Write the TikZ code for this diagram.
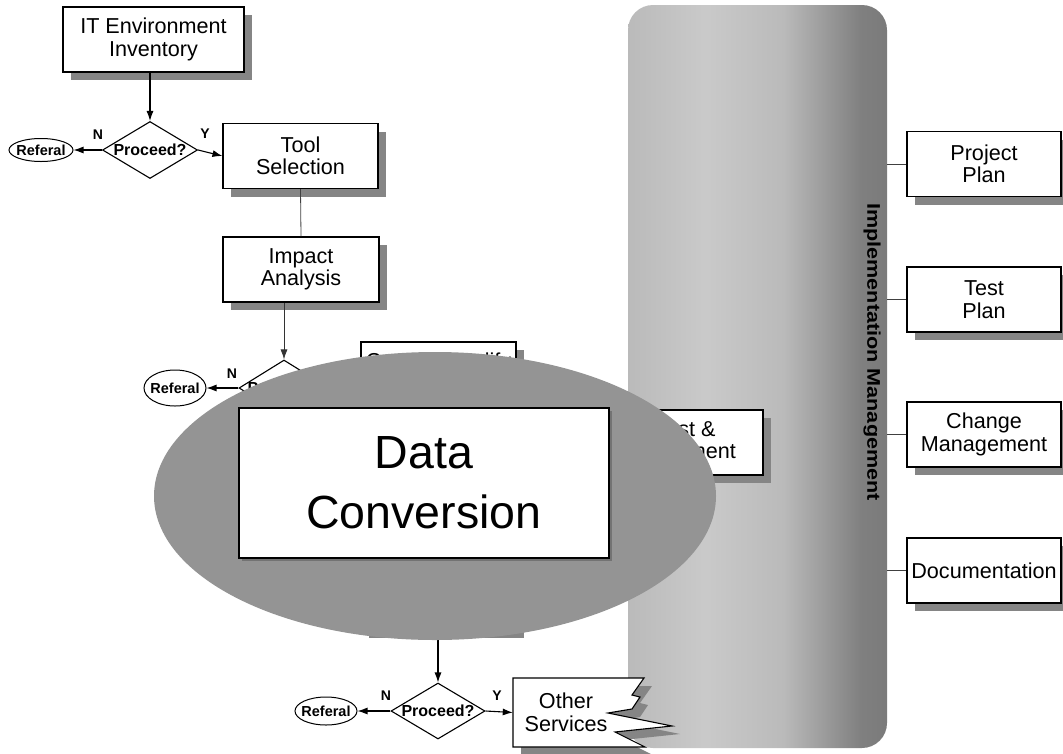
\documentclass[tikz,border=0pt]{standalone}
\usepackage{fontspec}
\setmainfont{Liberation Sans}
\usetikzlibrary{shapes.geometric,arrows.meta,shadows}

% light on the left, darker towards the right edge of the band
\pgfdeclarehorizontalshading{implshade}{100bp}{color(0bp)=(black!27); color(25bp)=(black!27); color(40bp)=(black!21); color(55bp)=(black!27); color(70bp)=(black!50); color(75bp)=(black!52); color(100bp)=(black!52)}

\tikzset{
  every node/.style={inner sep=0pt},
  txt/.style={font=\fontsize{21.6}{22.5}\selectfont, align=center},
  boxshadow/.style={drop shadow={shadow xshift=8pt,shadow yshift=-8pt,fill=black!48,opacity=1}},
  stepbox/.style={txt, rectangle, draw, line width=1.1pt, fill=white,
    minimum width=155pt, minimum height=65pt, boxshadow},
  decision/.style={diamond, draw, line width=1.1pt, fill=white,
    font=\bfseries\fontsize{16}{18}\selectfont},
  referal/.style={ellipse, draw, line width=1pt, fill=white,
    font=\bfseries\fontsize{14.5}{16}\selectfont},
  yn/.style={font=\bfseries\fontsize{14}{16}\selectfont},
  arr/.style={line width=1.1pt, -{Latex[length=10pt,width=7pt]}},
  thinline/.style={line width=0.8pt, black!75},
  thinarr/.style={line width=0.8pt, black!80, -{Latex[length=10pt,width=7pt]}},
}

\begin{document}
\begin{tikzpicture}[x=1pt,y=-1pt]
\useasboundingbox (0,0) rectangle (1063,753);

% ---- implementation management band ----
\node[rectangle, rounded corners=25pt, shading=implshade,
      minimum width=259pt, minimum height=743pt] (impl) at (757.5,376.5) {};
\node[rotate=-90, font=\bfseries\fontsize{21.6}{24}\selectfont] (impllabel) at (872,352)
  {\scalebox{1}[0.85]{Implementation Management}};

% ---- side activities ----
\node[stepbox, minimum width=154pt] (pp)  at (984,164)   {Project\\Plan};
\node[stepbox, minimum width=154pt] (tp)  at (984,299.5) {Test\\Plan};
\node[stepbox, minimum width=154pt] (cm)  at (984,434.5) {Change\\Management};
\node[stepbox, minimum width=154pt] (doc) at (984,570.5) {Documentation};
\foreach \b in {pp,tp,cm,doc}
  \draw[thinline] (impl.east |- \b.west) -- (\b.west);

% ---- main flow ----
\node[stepbox, minimum width=181pt] (itenv) at (153.5,39.5) {IT Environment\\Inventory};
\node[decision, minimum width=95pt, minimum height=57pt] (d1) at (150,150) {\makebox[0pt]{Proceed?}};
\node[referal, minimum width=64pt, minimum height=23pt] (ref1) at (41,150) {\makebox[0pt]{Referal}};
\node[yn] (n1) at (98,135) {N};
\node[yn] (y1) at (205,134) {Y};
\node[stepbox] (tool) at (300.5,156) {Tool\\Selection};
\node[stepbox, minimum width=156pt] (impact) at (301,269.5) {Impact\\Analysis};

\draw[arr] (itenv.south -| d1.north) -- (d1.north);
\draw[arr] (d1.west) -- (ref1.east);
\draw[arr] (d1.east) -- (tool.west);
\draw[thinline] (tool.south) -- (impact.north);

\node[decision, minimum width=90pt, minimum height=56pt] (d2) at (284,388) {\makebox[0pt]{Proceed?}};
\node[referal, minimum width=62pt, minimum height=36pt] (ref2) at (175,388) {\makebox[0pt]{Referal}};
\node[yn] (n2) at (232,374) {N};
\draw[thinarr] (impact.south -| d2.north) -- (d2.north);
\draw[arr] (d2.west) -- (ref2.east);

% boxes lying behind the highlight
\node[stepbox] (conv) at (438.5,374.5) {};
\node[txt, anchor=north] (convtxt) at (438.5,352.5) {Convert/Modify};
\node[stepbox] (test) at (685.5,442.5) {Test \&\\Implement};
\node[stepbox, minimum height=60pt] (later) at (438.5,600) {};

\node[decision, minimum width=94pt, minimum height=56pt] (d3) at (438,711) {\makebox[0pt]{Proceed?}};
\node[referal, minimum width=62pt, minimum height=28pt] (ref3) at (326,711) {\makebox[0pt]{Referal}};
\node[yn] (n3) at (386,696) {N};
\node[yn] (y3) at (497,696) {Y};
\draw[arr] (later.south -| d3.north) -- (d3.north);
\draw[arr] (d3.west) -- (ref3.east);

% ---- highlighted phase ----
\node[ellipse, fill=black!42, minimum width=562pt, minimum height=288pt] (halo) at (435,496) {};
\node[rectangle, draw, line width=1.1pt, fill=white, minimum width=370pt, minimum height=150pt,
      align=center, font=\fontsize{46.5}{60}\selectfont,
      drop shadow={shadow xshift=3pt,shadow yshift=-3pt,fill=black!55,opacity=1}]
  (dc) at (424,483) {Data\\Conversion};

% ---- torn box ----
\begin{scope}[shift={(8,8)}]
  \fill[black!48] (513,678) -- (644,678) -- (632,695) -- (640,697) -- (632,709) -- (608,713)
    -- (672,726) -- (615,732) -- (645,747) -- (513,747) -- cycle;
\end{scope}
\draw[line width=1.1pt, fill=white, line join=miter] (513,678) -- (644,678) -- (632,695) -- (640,697)
  -- (632,709) -- (608,713) -- (672,726) -- (615,732) -- (645,747) -- (513,747) -- cycle;
\node[txt, minimum width=106pt, minimum height=69pt] (other) at (566,712.5) {Other\\Services};
\draw[arr] (d3.east) -- (other.west);

\end{tikzpicture}
\end{document}
